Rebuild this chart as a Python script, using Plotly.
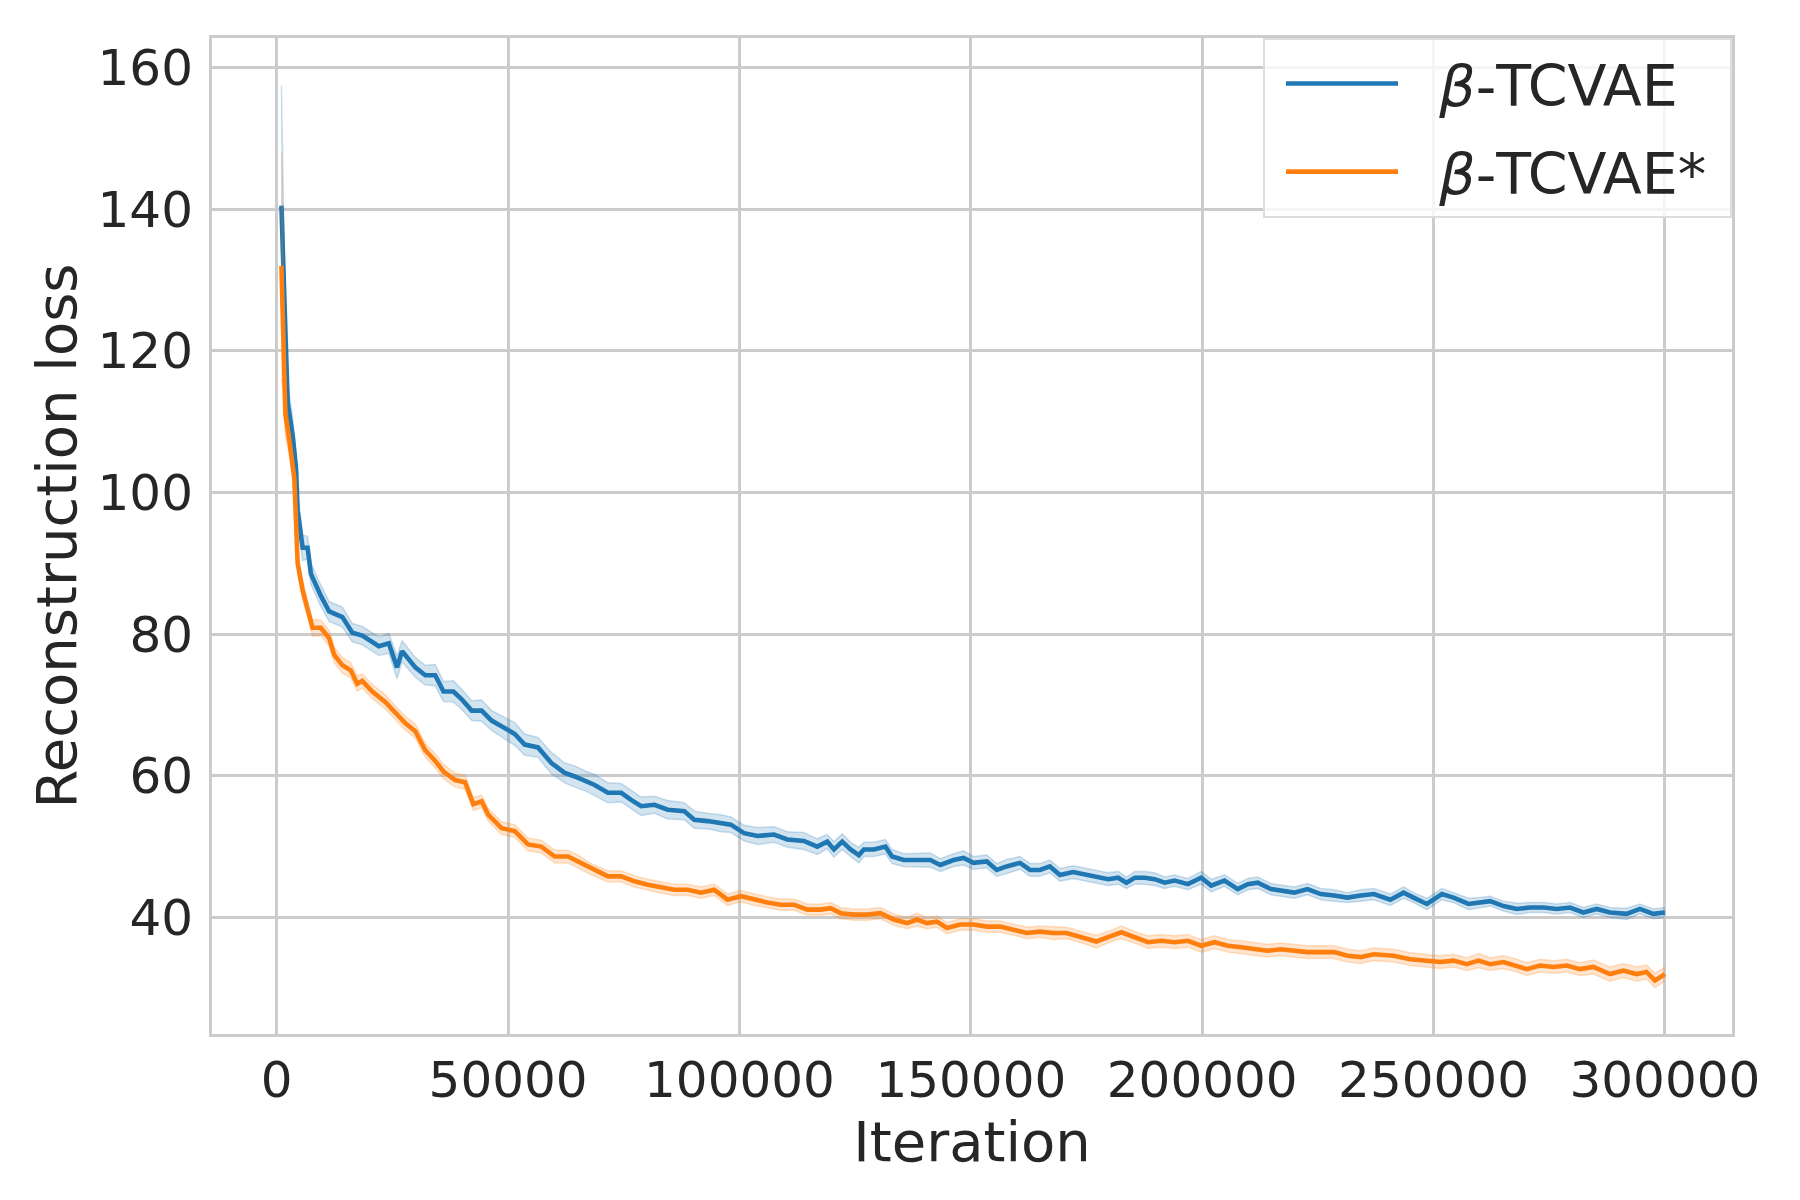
import plotly.graph_objects as go

# ---- data ----
blue_iter = [1000, 1430, 1800, 2360, 3440, 4150, 4510, 5590, 6660, 7380,
             9530, 11320, 14180, 16330, 18480, 22060, 24210, 26000, 27080, 29940,
             32090, 34240, 36030, 38180, 39970, 42120, 44270, 46420, 48570, 51430,
             53580, 56450, 59360, 62230, 64390, 66900, 68700, 71570, 74440, 76590,
             78750, 81620, 84490, 88080, 90230, 93110, 95980, 98130, 101000, 103900,
             107470, 110340, 113930, 116800, 118980, 120420, 122200, 124000, 125800, 126880,
             129030, 131550, 132980, 135500, 138370, 141240, 143400, 146270, 148420, 150570,
             153450, 155600, 157750, 160630, 162780, 164930, 167090, 169240, 172110, 174990,
             177860, 179680, 181830, 183630, 185420, 187580, 189730, 191890, 194040, 196910,
             199780, 201940, 204810, 207680, 209840, 211990, 214860, 217020, 219890, 222760,
             225630, 228500, 231380, 234250, 237120, 240650, 243530, 245680, 248560, 251800,
             254320, 257550, 260070, 262230, 265110, 267990, 270860, 273740, 276620, 279500,
             282370, 285250, 288130, 291720, 294600, 297480, 300000]
blue_mean = [140.5, 132.0, 122.0, 112.6, 108.0, 103.5, 97.5, 92.2, 92.2, 88.5,
             85.4, 83.2, 82.4, 80.2, 79.8, 78.3, 78.7, 75.3, 77.6, 75.3,
             74.2, 74.2, 71.9, 71.9, 70.8, 69.2, 69.2, 67.8, 67.0, 65.9,
             64.4, 64.0, 61.8, 60.4, 59.9, 59.2, 58.7, 57.6, 57.6, 56.6,
             55.7, 55.9, 55.2, 55.0, 53.8, 53.6, 53.3, 53.1, 51.9, 51.5,
             51.7, 51.0, 50.8, 50.0, 50.7, 49.6, 50.7, 49.6, 48.8, 49.6,
             49.6, 50.0, 48.6, 48.1, 48.1, 48.1, 47.4, 48.1, 48.4, 47.7,
             47.9, 46.7, 47.2, 47.7, 46.7, 46.7, 47.2, 46.0, 46.4, 46.0,
             45.7, 45.4, 45.6, 44.9, 45.6, 45.6, 45.4, 44.9, 45.2, 44.7,
             45.6, 44.5, 45.2, 44.0, 44.7, 44.9, 44.0, 43.8, 43.5, 44.0,
             43.3, 43.1, 42.8, 43.1, 43.3, 42.5, 43.5, 42.8, 41.9, 43.3,
             42.8, 41.9, 42.1, 42.3, 41.6, 41.2, 41.4, 41.4, 41.2, 41.4,
             40.7, 41.2, 40.7, 40.5, 41.2, 40.5, 40.7]
blue_ci = [17.0, 8.0, 5.0, 3.0, 2.5, 2.2, 2.0, 1.8, 1.6, 1.5,
           1.5, 1.4, 1.4, 1.3, 1.3, 1.3, 1.4, 1.6, 1.5, 1.4,
           1.4, 1.5, 1.4, 1.5, 1.4, 1.4, 1.5, 1.4, 1.5, 1.6,
           1.5, 1.4, 1.5, 1.4, 1.5, 1.4, 1.5, 1.4, 1.3, 1.3,
           1.3, 1.2, 1.3, 1.2, 1.2, 1.1, 1.2, 1.1, 1.1, 1.2,
           1.1, 1.1, 1.2, 1.1, 1.0, 1.1, 1.1, 1.0, 1.1, 1.0,
           1.0, 1.0, 1.0, 0.9, 0.9, 1.0, 0.9, 0.9, 1.0, 0.9,
           0.9, 0.9, 1.0, 0.9, 0.9, 0.9, 0.9, 0.9, 0.9, 0.9,
           0.9, 0.9, 0.9, 0.8, 0.9, 0.9, 0.9, 0.8, 0.8, 0.8,
           0.9, 0.9, 0.8, 0.8, 0.8, 0.8, 0.8, 0.8, 0.8, 0.8,
           0.8, 0.8, 0.7, 0.8, 0.8, 0.8, 0.8, 0.7, 0.8, 0.8,
           0.7, 0.8, 0.7, 0.7, 0.7, 0.8, 0.7, 0.7, 0.7, 0.7,
           0.7, 0.7, 0.7, 0.8, 0.7, 0.7, 0.7]

orange_iter = [1000, 1430, 1860, 2720, 3790, 4150, 4510, 5590, 7020, 7740,
               9530, 11320, 12390, 14180, 15970, 17400, 18480, 20630, 23500, 25640,
               27790, 29940, 32090, 34240, 36030, 38540, 40690, 42480, 44270, 45700,
               48570, 51430, 54300, 57160, 60070, 62940, 65100, 67970, 71570, 74440,
               77310, 80180, 83050, 85930, 88800, 91670, 94540, 97420, 100290, 103160,
               106030, 108900, 111780, 114650, 117550, 119700, 121850, 124730, 127600, 130470,
               133340, 136210, 138370, 140520, 142680, 144830, 147700, 150570, 153450, 156320,
               159190, 162060, 164930, 167810, 170680, 173550, 177140, 180400, 182550, 185420,
               188300, 191170, 194040, 196910, 199780, 202660, 205530, 208400, 211270, 214140,
               217020, 219890, 222760, 225630, 228500, 231380, 234250, 237120, 241370, 244960,
               248560, 251440, 254320, 257190, 259710, 262230, 265110, 267990, 270140, 273020,
               275900, 278780, 281650, 284530, 288130, 291000, 293880, 296040, 297840, 300000]
orange_mean = [132.0, 120.0, 111.0, 107.3, 102.0, 96.0, 90.0, 86.2, 82.4, 80.9,
               80.9, 79.4, 77.1, 75.6, 74.9, 73.0, 73.4, 71.9, 70.4, 68.9,
               67.4, 66.3, 63.6, 62.1, 60.6, 59.4, 59.1, 56.0, 56.4, 54.5,
               52.6, 52.2, 50.3, 50.0, 48.6, 48.6, 47.9, 46.8, 45.8, 45.8,
               45.1, 44.6, 44.2, 43.9, 43.9, 43.5, 43.9, 42.5, 43.0, 42.5,
               42.1, 41.8, 41.8, 41.1, 41.1, 41.3, 40.6, 40.4, 40.4, 40.6,
               39.7, 39.2, 39.7, 39.2, 39.4, 38.5, 39.0, 39.0, 38.7, 38.7,
               38.3, 37.8, 38.0, 37.8, 37.8, 37.3, 36.6, 37.4, 37.9, 37.2,
               36.5, 36.7, 36.5, 36.7, 36.0, 36.5, 36.0, 35.8, 35.5, 35.3,
               35.5, 35.3, 35.1, 35.1, 35.1, 34.6, 34.4, 34.8, 34.6, 34.1,
               33.9, 33.7, 33.9, 33.4, 33.9, 33.4, 33.7, 33.2, 32.7, 33.2,
               33.0, 33.2, 32.7, 33.0, 32.0, 32.5, 32.0, 32.3, 31.1, 32.0]
orange_ci = [16.0, 6.0, 3.0, 2.0, 1.8, 1.6, 1.5, 1.3, 1.2, 1.2,
             1.1, 1.1, 1.1, 1.1, 1.1, 1.1, 1.0, 1.0, 1.0, 1.0,
             1.0, 1.0, 1.0, 1.0, 1.0, 1.0, 1.0, 0.9, 0.9, 0.9,
             0.9, 0.9, 0.9, 0.9, 0.9, 0.9, 0.9, 0.8, 0.8, 0.8,
             0.8, 0.8, 0.8, 0.8, 0.8, 0.8, 0.8, 0.8, 0.8, 0.8,
             0.8, 0.8, 0.8, 0.8, 0.8, 0.8, 0.8, 0.8, 0.8, 0.8,
             0.8, 0.8, 0.9, 0.8, 0.8, 0.8, 0.8, 0.8, 0.8, 0.8,
             0.8, 0.8, 0.8, 0.9, 0.8, 0.8, 0.9, 0.8, 0.9, 0.8,
             0.9, 0.9, 0.9, 0.9, 0.9, 0.9, 0.9, 0.9, 0.9, 0.9,
             0.9, 0.9, 0.9, 0.9, 0.9, 0.9, 0.9, 0.9, 0.9, 0.9,
             0.9, 0.9, 0.9, 0.9, 1.0, 0.9, 0.9, 0.9, 0.9, 0.9,
             0.9, 0.9, 0.9, 1.0, 1.0, 1.0, 1.0, 1.0, 1.0, 1.0]

x_ticks = [0, 50000, 100000, 150000, 200000, 250000, 300000]
y_ticks = [40, 60, 80, 100, 120, 140, 160]

NB = "\u00a0"
series = [
    (NB * 2 + "<i>β</i>-TCVAE", blue_iter, blue_mean, blue_ci, (31, 119, 180)),
    (NB * 2 + "<i>β</i>-TCVAE*" + NB, orange_iter, orange_mean, orange_ci, (255, 127, 14)),
]

FONT = "DejaVu Sans"
TXT = "#262626"

fig = go.Figure()
for i, (name, xs, ms, cs, rgb) in enumerate(series):
    lo = [m - c for m, c in zip(ms, cs)]
    hi = [m + c for m, c in zip(ms, cs)]
    r, g, b = rgb
    fig.add_trace(go.Scatter(x=xs, y=lo, mode="lines", showlegend=False,
                             line=dict(width=1.5, color=f"rgba({r},{g},{b},0.22)"),
                             hoverinfo="skip"))
    fig.add_trace(go.Scatter(x=xs, y=hi, mode="lines", showlegend=False,
                             fill="tonexty", fillcolor=f"rgba({r},{g},{b},0.2)",
                             line=dict(width=1.5, color=f"rgba({r},{g},{b},0.22)"),
                             hoverinfo="skip"))
    fig.add_trace(go.Scatter(x=xs, y=ms, mode="lines", name=name,
                             legendgroup=f"g{i}",
                             line=dict(width=4.6, color=f"rgb({r},{g},{b})")))

axis_common = dict(
    showline=True, mirror=True, linecolor="#cccccc", linewidth=3,
    showgrid=True, gridcolor="#cccccc", gridwidth=2.6, zeroline=False,
    ticks="outside", tickcolor="rgba(0,0,0,0)",
    tickfont=dict(family=FONT, size=50, color=TXT),
)

fig.update_xaxes(range=[-14000, 314500], tickvals=x_ticks,
                 ticktext=[str(v) for v in x_ticks], ticklen=0,
                 title=dict(text="Iteration", font=dict(family=FONT, size=56, color=TXT),
                            standoff=0),
                 **axis_common)
fig.update_yaxes(range=[23.54, 164.17], tickvals=y_ticks,
                 ticktext=[str(v) for v in y_ticks], ticklen=6,
                 title=dict(text="Reconstruction loss", font=dict(family=FONT, size=56, color=TXT),
                            standoff=3),
                 **axis_common)

fig.update_layout(
    width=1800, height=1200,
    margin=dict(l=204, r=76, t=30, b=174),
    paper_bgcolor="white", plot_bgcolor="white",
    font=dict(family=FONT, color=TXT),
    showlegend=True,
    legend=dict(x=1, y=1, xanchor="right", yanchor="top",
                bgcolor="rgba(255,255,255,0.8)", bordercolor="#dddddd", borderwidth=2,
                font=dict(family=FONT, size=57, color=TXT),
                itemwidth=112, indentation=16,
                traceorder="grouped", tracegroupgap=11),
)

fig.write_html("out.html")
